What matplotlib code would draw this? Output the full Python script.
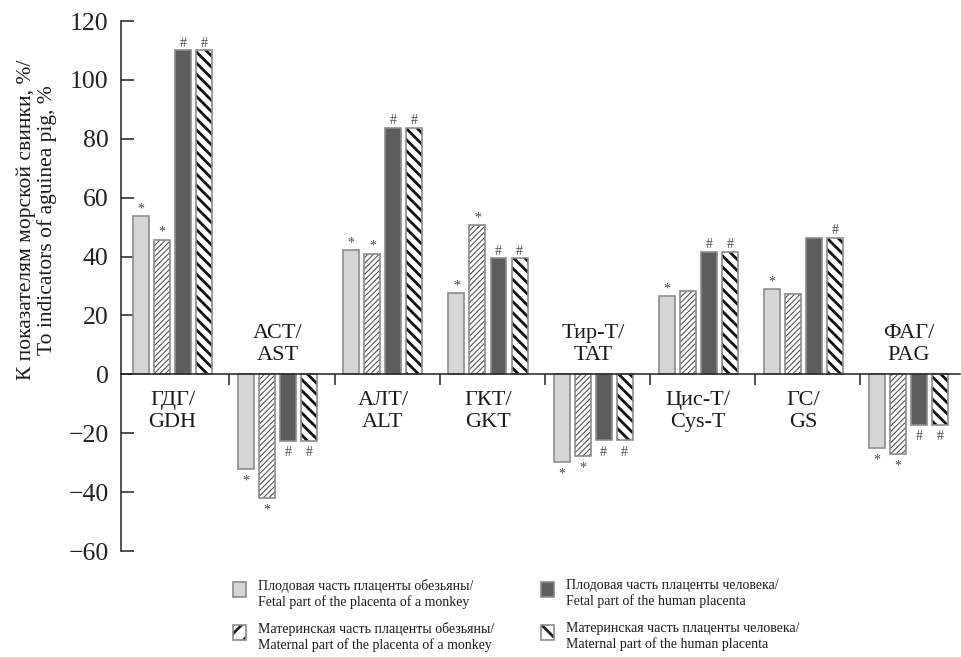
import matplotlib
matplotlib.use("Agg")
import matplotlib.pyplot as plt
from matplotlib.patches import Rectangle
import numpy as np

plt.rcParams['font.family'] = ['Liberation Serif', 'DejaVu Serif']
plt.rcParams['axes.unicode_minus'] = True

# ---- data ----
categories_ru = ["ГДГ", "АСТ", "АЛТ", "ГКТ", "Тир-Т", "Цис-Т", "ГС", "ФАГ"]
categories_en = ["GDH", "AST", "ALT", "GKT", "TAT", "Cys-T", "GS", "PAG"]
monkey_fetal = [53.8, -32.0, 42.1, 27.5, -29.6, 26.7, 29.0, -25.1]
monkey_maternal = [45.8, -42.1, 41.0, 50.6, -27.6, 28.2, 27.2, -26.9]
human_fetal = [110.0, -22.6, 83.7, 39.4, -22.3, 41.7, 46.4, -17.1]
human_maternal = [110.0, -22.6, 83.7, 39.4, -22.3, 41.7, 46.4, -17.1]
monkey_fetal_marks = ["*", "*", "*", "*", "*", "*", "*", "*"]
monkey_maternal_marks = ["*", "*", "*", "*", "*", "", "", "*"]
human_fetal_marks = ["#", "#", "#", "#", "#", "#", "", "#"]
human_maternal_marks = ["#", "#", "#", "#", "#", "#", "#", "#"]
legend_labels = [
    "Плодовая часть плаценты обезьяны/\nFetal part of the placenta of a monkey",
    "Материнская часть плаценты обезьяны/\nMaternal part of the placenta of a monkey",
    "Плодовая часть плаценты человека/\nFetal part of the human placenta",
    "Материнская часть плаценты человека/\nMaternal part of the human placenta",
]
y_ticks = [-60, -40, -20, 0, 20, 40, 60, 80, 100, 120]
ylabel_text = "К показателям морской свинки, %/\nTo indicators of aguinea pig, %"

series = [monkey_fetal, monkey_maternal, human_fetal, human_maternal]
marks = [monkey_fetal_marks, monkey_maternal_marks, human_fetal_marks, human_maternal_marks]

edge_gray = "#8c8c8c"
styles = [
    dict(face="#d5d5d5", hatch=None, hcolor=None, hlw=None, lhatch=None),
    dict(face="white", hatch="//////", hcolor="#555555", hlw=0.8, lhatch="//"),
    dict(face="#5d5d5d", hatch=None, hcolor=None, hlw=None, lhatch=None),
    dict(face="white", hatch="\\\\\\", hcolor="#111111", hlw=2.0, lhatch="\\\\"),
]

fig = plt.figure(figsize=(9.61, 6.57), dpi=100)
ax = fig.add_axes([0.126, 0.1613, 0.999 - 0.126, 0.968 - 0.1613])

x = np.arange(len(categories_en))
pitch = 0.2
width = 0.152


def draw_bars(axis, xpos, heights, st, w):
    if st["hatch"] is None:
        bars = axis.bar(xpos, heights, w, color=st["face"], edgecolor=edge_gray,
                        linewidth=1.2, zorder=3)
    else:
        plt.rcParams['hatch.linewidth'] = st["hlw"]
        bars = axis.bar(xpos, heights, w, color=st["face"], edgecolor=st["hcolor"],
                        hatch=st["hatch"], linewidth=0, zorder=3)
        for b in bars:
            if hasattr(b, "set_hatch_linewidth"):
                b.set_hatch_linewidth(st["hlw"])
        axis.bar(xpos, heights, w, color="none", edgecolor=edge_gray,
                 linewidth=1.2, zorder=4)
    return bars


for k, (vals, st, mk) in enumerate(zip(series, styles, marks)):
    xpos = x + (k - 1.5) * pitch
    draw_bars(ax, xpos, vals, st, width)
    for xi, v, m in zip(xpos, vals, mk):
        if not m:
            continue
        if v >= 0:
            ax.annotate(m, (xi, v), xytext=(0, 0.5), textcoords="offset points",
                        ha="center", va="bottom", fontsize=10, color="#4a4a4a")
        else:
            ax.annotate(m, (xi, v), xytext=(0, -4), textcoords="offset points",
                        ha="center", va="top", fontsize=10, color="#4a4a4a")

# category labels
for xi, ru, en, v in zip(x, categories_ru, categories_en, monkey_fetal):
    label = ru + "/\n" + en
    if v >= 0:
        ax.annotate(label, (xi, 0), xytext=(0, -12), textcoords="offset points",
                    ha="center", va="top", fontsize=16, linespacing=1.2,
                    color="#1a1a1a")
    else:
        ax.annotate(label, (xi, 0), xytext=(0, 7), textcoords="offset points",
                    ha="center", va="bottom", fontsize=16, linespacing=1.2,
                    color="#1a1a1a")

ax.set_xlim(-0.49, 7.49)
ax.set_ylim(-60, 120)
ax.set_yticks(y_ticks)
ax.set_yticklabels([("\u2212" + str(-t)) if t < 0 else str(t) for t in y_ticks])
ax.set_xticks(x[:-1] + 0.54)
ax.set_xticklabels([])

for s in ["top", "right"]:
    ax.spines[s].set_visible(False)
ax.spines["bottom"].set_position(("data", 0))
ax.spines["bottom"].set_zorder(5)
for s in ["bottom", "left"]:
    ax.spines[s].set_linewidth(1.1)
    ax.spines[s].set_color("#222222")

ax.tick_params(axis="y", direction="in", length=9, width=1.1, pad=9,
               labelsize=18.5, colors="#222222")
ax.tick_params(axis="x", direction="out", length=8, width=1.1, colors="#222222")
ax.patch.set_alpha(0)

fig.text(37 / 961, 1 - 220 / 657, ylabel_text, rotation=90, ha="center", va="center",
         fontsize=15.5, linespacing=1.05, multialignment="center", color="#1a1a1a")

# legend (manual)
W, H = 961.0, 657.0
leg_pos = [(233, 582), (233, 625), (541, 582), (541, 625)]
for (px, py), st, lab in zip(leg_pos, styles, legend_labels):
    rx, ry = px / W, 1 - (py + 15) / H
    if st["hatch"] is None:
        r = Rectangle((rx, ry), 13 / W, 15 / H, transform=fig.transFigure,
                      facecolor=st["face"], edgecolor=edge_gray, linewidth=1.2)
        fig.add_artist(r)
    else:
        plt.rcParams['hatch.linewidth'] = 2.0
        r = Rectangle((rx, ry), 13 / W, 15 / H, transform=fig.transFigure,
                      facecolor="white", edgecolor="#222222", hatch=st["lhatch"],
                      linewidth=0)
        if hasattr(r, "set_hatch_linewidth"):
            r.set_hatch_linewidth(2.0)
        fig.add_artist(r)
        r2 = Rectangle((rx, ry), 13 / W, 15 / H, transform=fig.transFigure,
                       facecolor="none", edgecolor=edge_gray, linewidth=1.2)
        fig.add_artist(r2)
    fig.text((px + 25) / W, 1 - (py - 3) / H, lab, ha="left", va="top",
             fontsize=10, linespacing=1.2, color="#1a1a1a")

fig.savefig("out.png", dpi=100)
